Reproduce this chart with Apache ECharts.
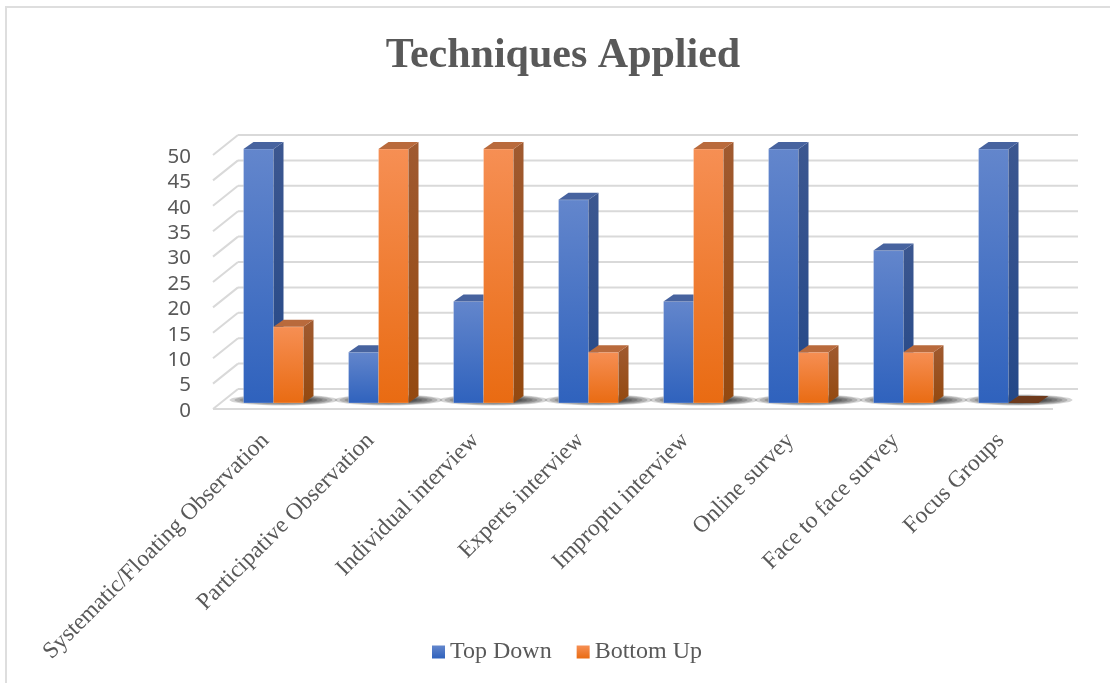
<!DOCTYPE html>
<html>
<head>
<meta charset="utf-8">
<title>Techniques Applied</title>
<script src="https://cdn.jsdelivr.net/npm/echarts@6/dist/echarts.min.js"></script>
<style>
html,body{margin:0;padding:0;background:#fff}
#chart{width:1110px;height:683px}
</style>
</head>
<body>
<div id="chart"></div>
<script>
var categories = ['Systematic/Floating Observation','Participative Observation','Individual interview','Experts interview','Improptu interview','Online survey','Face to face survey','Focus Groups'];
var topDown = [50,10,20,40,20,50,30,50];
var bottomUp = [15,50,50,10,50,10,10,0];
var yTicks = [0,5,10,15,20,25,30,35,40,45,50];

var gray = '#595959';
var serif = '"Liberation Serif"';

function vgrad(a,b){
  return new echarts.graphic.LinearGradient(0,0,0,1,[{offset:0,color:a},{offset:1,color:b}]);
}

// depth of the floor, and how far the bars sit inside it
var wallDx = 25, wallDy = -20;
var barInDx = 8, barInDy = -6;
var barDx = 10, barDy = -7;

var blue = {front:['#6386cc','#2f62bd'],side:['#3c5790','#244888'],top:'#47639f',flat:'#1f3864'};
var orange = {front:['#f68f54','#e96b12'],side:['#a05a30','#94490f'],top:'#b96a3c',flat:'#6e3a1c'};

function poly(pts,fill){
  return {type:'polygon',shape:{points:pts},style:{fill:fill}};
}

// one 3d column, side: -1 left of the band centre, 0 right of it
function barItem(cols,side){
  return function(params,api){
    var i = api.value(0), v = api.value(1);
    var w = api.size([1,0])[0]*30/105;
    var base = api.coord([i,0]), head = api.coord([i,v]);
    var x0 = base[0]+barInDx+side*w, x1 = x0+w;
    var y0 = base[1]+barInDy, y1 = head[1]+barInDy;
    var kids = [];
    if(v>0){
      kids.push({type:'rect',shape:{x:x0,y:y1,width:w,height:y0-y1},style:{fill:vgrad(cols.front[0],cols.front[1]),stroke:'rgba(255,255,255,0.25)',lineWidth:1}});
      kids.push(poly([[x1,y1],[x1+barDx,y1+barDy],[x1+barDx,y0+barDy],[x1,y0]],vgrad(cols.side[0],cols.side[1])));
    }
    kids.push(poly([[x0,y1],[x0+barDx,y1+barDy],[x1+barDx,y1+barDy],[x1,y1]],v>0?cols.top:cols.flat));
    return {type:'group',children:kids};
  };
}

function wallItem(params,api){
  var g = params.coordSys;
  var y = api.coord([0,api.value(0)])[1];
  var line = {stroke:'#d9d9d9',lineWidth:2,fill:'none'};
  var kids = [{type:'line',shape:{x1:g.x+wallDx,y1:y+wallDy,x2:g.x+g.width+wallDx,y2:y+wallDy},style:line}];
  kids.push({type:'line',shape:{x1:g.x,y1:y,x2:g.x+wallDx,y2:y+wallDy},style:line});
  if(api.value(0)===0){
    kids.push({type:'line',shape:{x1:g.x,y1:y,x2:g.x+g.width,y2:y},style:line});
  }
  return {type:'group',children:kids};
}

// soft floor shadow, a stack of faint ellipses fakes the blur
function shadowItem(params,api){
  var c = api.coord([api.value(0),0]);
  var cx = c[0]+barInDx+10, cy = c[1]+barInDy-3;
  var kids = [];
  for(var k=0;k<7;k++){
    kids.push({type:'ellipse',shape:{cx:cx,cy:cy,rx:54-k*5,ry:5.5-k*0.6},style:{fill:'rgba(0,0,0,0.17)'}});
  }
  return {type:'group',children:kids};
}

var chart = echarts.init(document.getElementById('chart'),null,{renderer:'canvas'});
chart.setOption({
  animation:false,
  backgroundColor:'#fff',
  title:{text:'Techniques Applied',left:558,top:30,textAlign:'center',
    textStyle:{fontFamily:serif,fontWeight:'bold',fontSize:42,color:gray}},
  legend:{data:['Top Down','Bottom Up'],top:635,left:427,icon:'rect',itemWidth:13,itemHeight:13,itemGap:25,
    textStyle:{fontFamily:serif,fontSize:24,color:gray}},
  grid:{left:213,right:57,top:155,bottom:274,containLabel:false},
  xAxis:{type:'category',data:categories,
    axisLine:{show:false},axisTick:{show:false},splitLine:{show:false},
    axisLabel:{rotate:45,interval:0,margin:28,fontFamily:serif,fontSize:23.5,color:gray}},
  yAxis:{type:'value',min:0,max:50,interval:5,
    axisLine:{show:false},axisTick:{show:false},splitLine:{show:false},
    axisLabel:{margin:22,formatter:'{a|{value}}',
      rich:{a:{padding:[4,0,0,0],fontFamily:'"Noto Sans"',fontSize:20.5,color:gray}}}},
  graphic:[
    {type:'polyline',silent:true,shape:{points:[[6,683],[6,7],[1110,7]]},style:{stroke:'#dedede',lineWidth:2,fill:'none'}}
  ],
  series:[
    {type:'custom',name:'walls',z:1,silent:true,data:yTicks.map(function(t){return [t];}),renderItem:wallItem,encode:{y:0}},
    {type:'custom',name:'shadow',z:2,silent:true,data:categories.map(function(c,i){return [i];}),renderItem:shadowItem,encode:{x:0}},
    {type:'custom',name:'Top Down',z:3,itemStyle:{color:vgrad(blue.front[0],blue.front[1])},
      data:topDown.map(function(v,i){return [i,v];}),renderItem:barItem(blue,-1),encode:{x:0,y:1}},
    {type:'custom',name:'Bottom Up',z:4,itemStyle:{color:vgrad(orange.front[0],orange.front[1])},
      data:bottomUp.map(function(v,i){return [i,v];}),renderItem:barItem(orange,0),encode:{x:0,y:1}}
  ]
});
</script>
</body>
</html>
